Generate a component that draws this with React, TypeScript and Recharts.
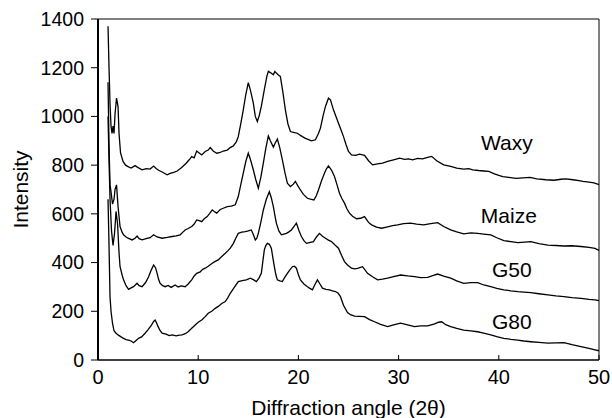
import React from 'react';
import { LineChart, Line, XAxis, YAxis, ReferenceLine, ReferenceDot } from 'recharts';

// Diffraction angle (2θ) vs intensity
const waxy: [number, number][] = [
  [1.0, 1370], [1.1, 1200], [1.2, 1050], [1.3, 960], [1.4, 930], [1.5, 960], [1.6, 930], [1.7, 1010],
  [1.85, 1075], [2.0, 1040], [2.1, 930], [2.25, 850], [2.5, 815], [2.75, 800], [3.0, 794], [3.3, 788],
  [3.7, 798], [4.0, 790], [4.4, 781], [4.8, 786], [5.2, 784], [5.55, 796], [5.8, 786], [6.05, 779],
  [6.4, 772], [6.9, 760], [7.2, 766], [7.55, 770], [7.9, 776], [8.35, 790], [8.8, 808], [9.1, 822],
  [9.35, 835], [9.6, 830], [9.85, 858], [10.1, 850], [10.35, 842], [10.7, 856], [11.0, 862], [11.2, 872],
  [11.5, 858], [11.85, 849], [12.2, 852], [12.5, 858], [12.9, 862], [13.2, 872], [13.5, 879], [13.8, 895],
  [14.0, 917], [14.25, 970], [14.5, 1027], [14.75, 1090], [15.0, 1139], [15.2, 1110], [15.5, 1055],
  [15.7, 1000], [15.9, 979], [16.1, 1005], [16.3, 1041], [16.6, 1110], [16.85, 1164], [17.0, 1185],
  [17.2, 1180], [17.5, 1171], [17.65, 1185], [17.8, 1178], [18.0, 1170], [18.2, 1164], [18.45, 1100],
  [18.7, 1027], [18.95, 970], [19.2, 938], [19.5, 935], [19.9, 931], [20.2, 922], [20.4, 917],
  [20.7, 910], [20.9, 907], [21.3, 900], [21.7, 904], [22.0, 930], [22.2, 952], [22.45, 1000],
  [22.7, 1041], [23.0, 1075], [23.2, 1068], [23.5, 1027], [23.75, 1000], [24.0, 972], [24.25, 945],
  [24.5, 917], [24.75, 885], [25.0, 856], [25.3, 842], [25.7, 840], [26.1, 845], [26.6, 840],
  [27.0, 818], [27.4, 801], [27.9, 805], [28.4, 808], [28.9, 815], [29.5, 822], [30.1, 829],
  [30.6, 824], [31.0, 826], [31.4, 822], [31.9, 828], [32.4, 826], [32.9, 832], [33.3, 836],
  [33.8, 818], [34.5, 801], [35.2, 795], [35.8, 788], [36.5, 784], [37.0, 786], [37.4, 781],
  [38.0, 778], [38.5, 776], [39.0, 774], [39.5, 765], [40.0, 758], [40.4, 753], [41.0, 750],
  [41.7, 746], [42.4, 748], [43.1, 750], [43.8, 744], [44.7, 740], [45.5, 738], [46.2, 742],
  [46.7, 744], [47.4, 740], [48.0, 736], [48.4, 733], [49.0, 730], [49.5, 727], [50.0, 720],
];

const maize: [number, number][] = [
  [1.0, 1140], [1.1, 880], [1.2, 720], [1.3, 690], [1.45, 640], [1.6, 660], [1.7, 700], [1.85, 719],
  [2.0, 630], [2.2, 548], [2.4, 525], [2.55, 514], [2.8, 505], [3.0, 500], [3.4, 493], [3.7, 500],
  [3.9, 509], [4.1, 498], [4.4, 493], [4.8, 498], [5.2, 502], [5.55, 514], [5.9, 505], [6.4, 500],
  [6.9, 503], [7.4, 507], [7.8, 510], [8.2, 514], [8.5, 526], [8.7, 534], [9.0, 540], [9.35, 548],
  [9.6, 558], [9.85, 575], [10.1, 572], [10.35, 568], [10.6, 580], [10.9, 589], [11.15, 602],
  [11.4, 616], [11.6, 610], [11.85, 603], [12.2, 618], [12.5, 623], [12.9, 630], [13.3, 632],
  [13.7, 637], [14.0, 671], [14.25, 720], [14.5, 767], [14.75, 815], [15.0, 849], [15.2, 825],
  [15.5, 781], [15.75, 740], [16.0, 705], [16.25, 750], [16.5, 808], [16.75, 870], [17.0, 920],
  [17.2, 900], [17.5, 874], [17.7, 892], [17.9, 907], [18.15, 870], [18.4, 822], [18.65, 770],
  [18.9, 726], [19.2, 712], [19.5, 722], [19.7, 733], [19.95, 715], [20.2, 698], [20.5, 680],
  [20.9, 664], [21.2, 660], [21.55, 657], [21.8, 675], [22.0, 698], [22.3, 735], [22.6, 767],
  [22.8, 785], [23.0, 797], [23.3, 780], [23.6, 753], [23.85, 720], [24.1, 685], [24.35, 662],
  [24.6, 644], [24.85, 620], [25.1, 603], [25.4, 590], [25.8, 580], [26.2, 582], [26.6, 589],
  [27.0, 565], [27.3, 555], [27.8, 546], [28.3, 541], [28.8, 546], [29.4, 552], [29.9, 555],
  [30.5, 560], [31.2, 562], [31.8, 558], [32.5, 555], [33.2, 560], [33.9, 564], [34.5, 548],
  [35.2, 534], [35.8, 526], [36.5, 518], [37.2, 522], [37.9, 520], [38.5, 517], [39.2, 514],
  [39.8, 502], [40.5, 490], [41.2, 486], [41.9, 482], [42.6, 484], [43.2, 486], [44.0, 478],
  [44.9, 472], [45.7, 470], [46.5, 468], [47.3, 469], [48.2, 466], [49.0, 462], [49.6, 458], [50.0, 450],
];

const g50: [number, number][] = [
  [1.0, 1000], [1.1, 820], [1.2, 660], [1.35, 530], [1.5, 470], [1.65, 520], [1.8, 610], [1.95, 560],
  [2.1, 440], [2.2, 383], [2.4, 350], [2.55, 329], [2.8, 305], [3.05, 290], [3.3, 296], [3.55, 301],
  [3.9, 315], [4.1, 305], [4.4, 301], [4.75, 318], [5.05, 342], [5.3, 368], [5.55, 390], [5.75, 378],
  [5.9, 356], [6.05, 330], [6.2, 315], [6.45, 305], [6.7, 301], [7.0, 306], [7.3, 298], [7.7, 308],
  [8.0, 300], [8.3, 304], [8.7, 301], [9.0, 312], [9.35, 329], [9.6, 345], [9.85, 356], [10.2, 362],
  [10.45, 372], [10.7, 377], [11.0, 385], [11.4, 397], [11.7, 405], [12.0, 411], [12.35, 425],
  [12.7, 438], [12.95, 448], [13.2, 459], [13.5, 478], [13.75, 500], [14.0, 520], [14.35, 525],
  [14.7, 527], [15.0, 530], [15.3, 534], [15.5, 515], [15.7, 493], [15.85, 500], [16.0, 520],
  [16.25, 565], [16.5, 616], [16.8, 660], [17.1, 691], [17.3, 665], [17.5, 630], [17.65, 595],
  [17.8, 562], [18.05, 530], [18.3, 514], [18.55, 517], [18.8, 520], [19.05, 526], [19.3, 534],
  [19.55, 548], [19.8, 562], [20.05, 532], [20.3, 507], [20.55, 490], [20.8, 479], [21.1, 482],
  [21.5, 486], [21.8, 505], [22.1, 520], [22.4, 508], [22.7, 500], [23.0, 492], [23.3, 486],
  [23.65, 472], [24.0, 459], [24.3, 430], [24.6, 404], [24.9, 390], [25.3, 377], [25.6, 374],
  [25.9, 376], [26.4, 383], [26.9, 356], [27.4, 342], [27.9, 329], [28.4, 332], [28.9, 336],
  [29.5, 342], [30.2, 349], [30.9, 345], [31.6, 342], [32.2, 338], [32.9, 339], [33.4, 346],
  [33.9, 353], [34.5, 344], [35.2, 336], [35.8, 325], [36.5, 315], [37.2, 318], [37.9, 318],
  [38.5, 308], [39.2, 301], [39.8, 294], [40.5, 288], [41.2, 284], [41.9, 281], [42.5, 279],
  [43.2, 277], [44.0, 272], [44.9, 267], [45.7, 263], [46.5, 260], [47.3, 256], [48.2, 253],
  [49.0, 249], [49.6, 247], [50.0, 244],
];

const g80: [number, number][] = [
  [1.0, 660], [1.1, 470], [1.2, 260], [1.3, 200], [1.45, 150], [1.6, 120], [1.8, 110], [2.0, 103],
  [2.3, 95], [2.55, 89], [2.8, 84], [3.05, 82], [3.3, 78], [3.55, 71], [3.8, 80], [4.05, 89],
  [4.35, 95], [4.7, 110], [5.0, 125], [5.35, 144], [5.55, 158], [5.7, 164], [5.85, 152], [6.0, 137],
  [6.2, 120], [6.4, 110], [6.8, 106], [7.1, 100], [7.4, 103], [7.8, 99], [8.1, 102], [8.4, 103],
  [8.7, 108], [9.0, 116], [9.35, 130], [9.7, 144], [10.0, 155], [10.35, 164], [10.7, 178],
  [11.0, 192], [11.35, 200], [11.7, 212], [12.0, 220], [12.35, 232], [12.7, 240], [12.95, 255],
  [13.2, 274], [13.6, 298], [14.0, 322], [14.4, 326], [14.8, 329], [15.2, 336], [15.5, 330],
  [15.8, 322], [16.05, 335], [16.3, 356], [16.45, 405], [16.6, 452], [16.75, 470], [16.9, 479],
  [17.1, 475], [17.3, 459], [17.45, 420], [17.6, 383], [17.75, 350], [17.9, 329], [18.15, 325],
  [18.4, 322], [18.65, 340], [18.9, 356], [19.15, 370], [19.4, 383], [19.6, 385], [19.8, 377],
  [20.0, 350], [20.2, 329], [20.55, 312], [20.9, 301], [21.15, 294], [21.4, 288], [21.65, 310],
  [21.9, 329], [22.15, 312], [22.4, 295], [22.75, 290], [23.1, 288], [23.4, 284], [23.7, 281],
  [23.95, 275], [24.2, 260], [24.5, 225], [24.9, 195], [25.2, 186], [25.6, 180], [26.1, 179],
  [26.6, 178], [27.1, 166], [27.6, 157], [28.2, 146], [28.9, 137], [29.5, 144], [30.2, 151],
  [30.9, 144], [31.6, 137], [32.2, 140], [32.9, 140], [33.6, 148], [34.0, 155], [34.3, 157],
  [34.7, 145], [35.2, 137], [35.8, 130], [36.5, 123], [37.2, 120], [37.9, 116], [38.5, 110],
  [39.2, 103], [39.8, 96], [40.5, 89], [41.2, 85], [41.9, 82], [42.5, 78], [43.2, 75], [44.0, 72],
  [44.9, 69], [45.7, 70], [46.5, 71], [47.3, 63], [48.2, 55], [49.0, 48], [49.6, 42], [50.0, 38],
];

const xTicks = [0, 10, 20, 30, 40, 50];
const yTicks = [0, 200, 400, 600, 800, 1000, 1200, 1400];
const seriesNames = ['Waxy', 'Maize', 'G50', 'G80'];
const seriesData = [waxy, maize, g50, g80];

// where each series name is written (data units)
const nameAngle = [40.8, 41.0, 41.3, 41.3];
const nameIntensity = [891, 592, 370, 157];

const toRows = (pts: [number, number][]) => pts.map(([x, y]) => ({ x, y }));

const FONT = '"Liberation Sans", Arial, Helvetica, sans-serif';

export default function App() {
  return (
    <div style={{ position: 'absolute', left: 0, top: 0, width: 612, height: 418, background: '#fff', fontFamily: FONT }}>
      <LineChart width={612} height={418} margin={{ top: 19, right: 13, bottom: 0, left: 0 }}>
        <XAxis
          dataKey="x"
          type="number"
          domain={[0, 50]}
          ticks={xTicks}
          interval={0}
          allowDuplicatedCategory={false}
          height={58}
          tickSize={-5}
          tickMargin={15}
          axisLine={{ stroke: '#000', strokeWidth: 1.6 }}
          tickLine={{ stroke: '#000', strokeWidth: 1 }}
          tick={{ fill: '#000', fontSize: 20, fontFamily: FONT }}
          label={{ value: 'Diffraction angle (2θ)', position: 'insideBottom', offset: 3, fontSize: 21, fill: '#000', fontFamily: FONT }}
        />
        <YAxis
          type="number"
          domain={[0, 1400]}
          ticks={yTicks}
          interval={0}
          width={98}
          tickSize={7}
          tickMargin={7}
          axisLine={{ stroke: '#000', strokeWidth: 2 }}
          tickLine={{ stroke: '#000', strokeWidth: 1 }}
          tick={{ fill: '#000', fontSize: 19.5, fontFamily: FONT }}
          label={{ value: 'Intensity', angle: -90, position: 'insideLeft', offset: 21, fontSize: 21, fill: '#000', fontFamily: FONT, style: { textAnchor: 'middle' } }}
        />
        <ReferenceLine y={1400} stroke="#000" strokeWidth={1} />
        <ReferenceLine x={50} stroke="#000" strokeWidth={1} />
        {seriesData.map((pts, i) => (
          <Line
            key={seriesNames[i]}
            data={toRows(pts)}
            dataKey="y"
            name={seriesNames[i]}
            type="linear"
            stroke="#000"
            strokeWidth={1.3}
            dot={false}
            activeDot={false}
            isAnimationActive={false}
          />
        ))}
        {seriesNames.map((n, i) => (
          <ReferenceDot
            key={'lbl' + n}
            x={nameAngle[i]}
            y={nameIntensity[i]}
            r={0}
            stroke="none"
            fill="none"
            label={{ value: n, position: 'center', fontSize: 21, fill: '#000', fontFamily: FONT }}
          />
        ))}
      </LineChart>
    </div>
  );
}
